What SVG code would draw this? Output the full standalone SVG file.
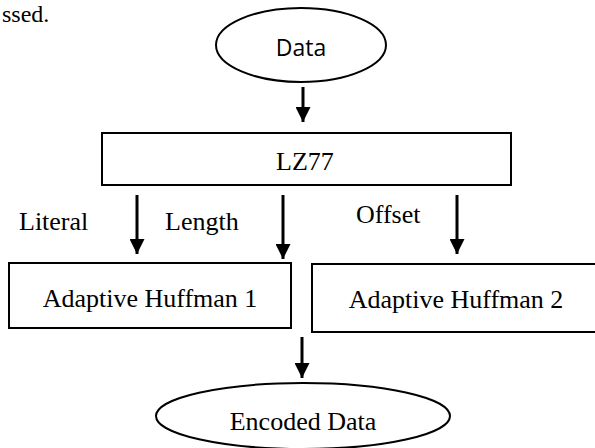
<svg xmlns="http://www.w3.org/2000/svg" width="595" height="448" viewBox="0 0 595 448">
<style>
.shape{fill:#fff;stroke:#000;stroke-width:2}
.serif{font-family:"Liberation Serif","Times New Roman",serif;font-size:26px;fill:#000}
.sans{font-family:"Open Sans","Noto Sans",sans-serif;font-size:23px;fill:#000}
.conn line{stroke:#000;stroke-width:3}
</style>
<defs>
<marker id="ah" markerWidth="5" markerHeight="5" refX="5" refY="2.5" orient="auto" markerUnits="strokeWidth">
<path d="M0,0 L5,2.5 L0,5 Z" fill="#000"/>
</marker>
</defs>
<rect width="595" height="448" fill="#fff"/>
<text class="serif" x="2" y="22" style="font-size:24px">ssed.</text>
<g id="data">
<ellipse class="shape" cx="301" cy="45" rx="85" ry="37"/>
<text class="sans" x="301" y="56" text-anchor="middle">Data</text>
</g>
<g id="lz77">
<rect class="shape" x="102" y="133" width="409" height="52"/>
<text class="serif" x="305" y="170" text-anchor="middle">LZ77</text>
</g>
<g id="ah1">
<rect class="shape" x="9" y="263" width="282" height="65"/>
<text class="serif" x="150" y="307" text-anchor="middle">Adaptive Huffman 1</text>
</g>
<g id="ah2">
<rect class="shape" x="312" y="264" width="300" height="68"/>
<text class="serif" x="456" y="308" text-anchor="middle">Adaptive Huffman 2</text>
</g>
<g id="encoded">
<ellipse class="shape" cx="303" cy="416" rx="147" ry="33"/>
<text class="serif" x="303" y="430" text-anchor="middle">Encoded Data</text>
</g>
<g id="labels">
<text class="serif" x="19" y="230">Literal</text>
<text class="serif" x="165" y="230">Length</text>
<text class="serif" x="356" y="223">Offset</text>
</g>
<g class="conn" id="connectors">
<line x1="303" y1="87" x2="303" y2="122" marker-end="url(#ah)"/>
<line x1="137" y1="195" x2="137" y2="254" marker-end="url(#ah)"/>
<line x1="283" y1="195" x2="283" y2="259" marker-end="url(#ah)"/>
<line x1="457" y1="195" x2="457" y2="254" marker-end="url(#ah)"/>
<line x1="302" y1="337" x2="302" y2="378" marker-end="url(#ah)"/>
</g>
</svg>
